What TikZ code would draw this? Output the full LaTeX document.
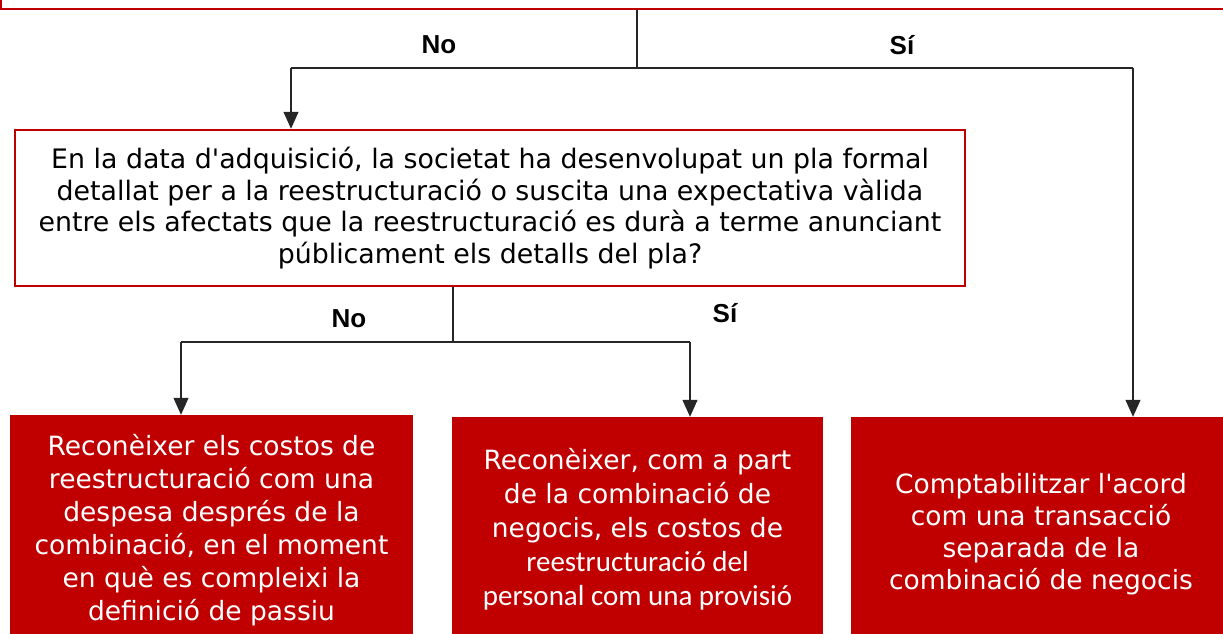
\documentclass[tikz,border=0pt]{standalone}
\usepackage{fontspec}
\setmainfont{DejaVu Sans}[Ligatures=TeXOff]
\newfontfamily\carl{Carlito}
\newfontfamily\lab{Liberation Sans}
\usetikzlibrary{arrows.meta}
\definecolor{dred}{HTML}{C00000}
\begin{document}
\begin{tikzpicture}[x=1pt,y=-1pt,
  qbox/.style={draw=dred,line width=2.5pt,fill=white,minimum width=950pt,minimum height=156pt,align=center,inner sep=0pt,font=\fontsize{26.8}{31.5}\selectfont},
  rbox/.style={fill=dred,text=white,align=center,inner sep=0pt},
  lbl/.style={font=\lab\bfseries\fontsize{26}{30}\selectfont},
  conn/.style={line width=1.2pt,black!85},
  arr/.style={conn,-{Triangle[length=17pt,width=15pt]}}]
\useasboundingbox (0,0) rectangle (1223,634);
% top box (only its lower edge is visible)
\node[draw=dred,line width=2.5pt,minimum width=1224pt,minimum height=80pt,inner sep=0pt] (top) at (613,-31) {};
% question box
\node[qbox] (q) at (490,208) {En la data d'adquisició, la societat ha desenvolupat un pla formal\\detallat per a la reestructuració o suscita una expectativa vàlida\\entre els afectats que la reestructuració es durà a terme anunciant\\públicament els detalls del pla?};
% result boxes
\node[rbox,minimum width=403pt,minimum height=225pt] (b1) at (211.5,527.5) {};
\node[rbox,minimum width=371pt,minimum height=223pt] (b2) at (637.5,528.5) {};
\node[rbox,minimum width=377pt,minimum height=223pt] (b3) at (1039.5,528.5) {};
\node[text=white,align=center,inner sep=0pt,font=\fontsize{26.5}{33}\selectfont] (t1) at (211.5,530.5) {Reconèixer els costos de\\reestructuració com una\\despesa després de la\\combinació, en el moment\\en què es compleixi la\\definició de passiu};
\node[text=white,align=center,inner sep=0pt,font=\fontsize{26.5}{34}\selectfont] (t2) at (637.5,529) {Reconèixer, com a part\\de la combinació de\\negocis, els costos de\\{\carl\fontsize{29}{34}\selectfont reestructuració del}\\{\carl\fontsize{29}{34}\selectfont personal com una provisió}};
\node[text=white,align=center,inner sep=0pt,font=\fontsize{26.5}{32}\selectfont] (t3) at (1041,534.5) {Comptabilitzar l'acord\\com una transacció\\separada de la\\combinació de negocis};
% labels
\node[lbl] (no1) at (439,45) {No};
\node[lbl] (si1) at (902,45) {Sí};
\node[lbl] (no2) at (349,319) {No};
\node[lbl] (si2) at (725,313) {Sí};
% connectors
\coordinate (j1) at (637,68);
\coordinate (l1) at (291,68);
\coordinate (r1) at (1133,68);
\coordinate (j2) at (453,342);
\coordinate (l2) at (181,342);
\coordinate (r2) at (690,342);
\draw[conn] (top.south -| j1) -- (j1);
\draw[conn] (l1) -- (r1);
\draw[arr] (l1) -- (l1 |- q.north);
\draw[arr] (r1) -- (r1 |- b3.north);
\draw[conn] (q.south -| j2) -- (j2);
\draw[conn] (l2) -- (r2);
\draw[arr] (l2) -- (l2 |- b1.north);
\draw[arr] (r2) -- (r2 |- b2.north);
\end{tikzpicture}
\end{document}
